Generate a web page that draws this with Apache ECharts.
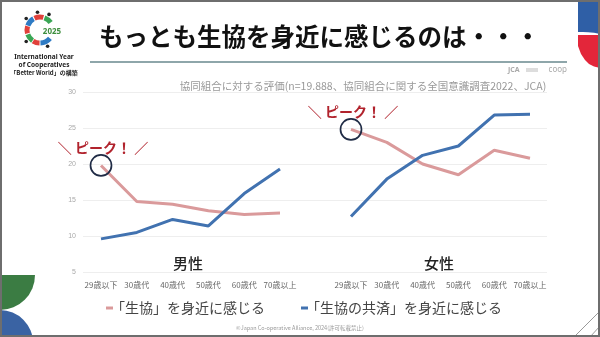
<!DOCTYPE html>
<html><head><meta charset="utf-8">
<script src="https://cdn.jsdelivr.net/npm/echarts@6/dist/echarts.min.js"></script>
<style>html,body{margin:0;padding:0;background:#fff}#c{width:600px;height:337px}</style>
</head><body><div id="c"></div>
<script>
const ageCategories = ['29歳以下','30歳代','40歳代','50歳代','60歳代','70歳以上'];
const yTicks = [5, 10, 15, 20, 25, 30];
const seriesNames = ['「生協」を身近に感じる', '「生協の共済」を身近に感じる'];
const maleSeikyo   = [19.8, 14.8, 14.4, 13.5, 13.0, 13.2];
const maleKyosai   = [9.6, 10.5, 12.3, 11.4, 15.9, 19.3];
const femaleSeikyo = [24.8, 23.0, 20.0, 18.5, 21.9, 20.8];
const femaleKyosai = [12.7, 17.9, 21.2, 22.5, 26.8, 26.9];
const panelTitles = ['男性', '女性'];
const peakLabel = '＼ ピーク！ ／';
const titleText = 'もっとも生協を身近に感じるのは・・・';
const subtitleText = '協同組合に対する評価(n=19.888、協同組合に関する全国意識調査2022、JCA)';
const footerText = '©Japan Co-operative Alliance, 2024(許可転載禁止)';

const PINK = '#da9a9b', BLUE = '#4172b0';
const JP = '"Noto Sans CJK JP", sans-serif';
const chart = echarts.init(document.getElementById('c'), null, {renderer: 'canvas'});

function peakMark(val) {
  return {
    symbol: 'circle', symbolSize: 21, silent: true,
    itemStyle: {color: 'rgba(0,0,0,0)', borderColor: '#1f2b45', borderWidth: 1.7},
    label: {show: true, formatter: peakLabel, position: 'inside', offset: [2, -18],
            color: '#b1232d', fontSize: 14, fontWeight: 'bold', fontFamily: JP},
    data: [{coord: [ageCategories[0], val]}]
  };
}
function catAxis(gi) {
  return {gridIndex: gi, type: 'category', data: ageCategories, boundaryGap: false,
    axisLine: {show: false}, axisTick: {show: false}, splitLine: {show: false},
    axisLabel: {fontSize: 8, color: '#666', margin: 9, interval: 0, hideOverlap: false, fontFamily: JP}};
}
function hiddenY(gi) {
  return {gridIndex: gi, type: 'value', min: yTicks[0], max: yTicks[yTicks.length-1], interval: 5, show: false, splitLine: {show: false}};
}
function line(name, xi, data, color, mark) {
  const s = {name, type: 'line', xAxisIndex: xi, yAxisIndex: xi, data, symbol: 'none', smooth: false,
    lineStyle: {width: 3, color}, itemStyle: {color}};
  if (mark) s.markPoint = mark;
  return s;
}
function legendAt(left, name) {
  return {left, top: 301, data: [name], icon: 'rect', itemWidth: 7, itemHeight: 3, padding: 0,
    textStyle: {fontSize: 14, color: '#444', fontFamily: JP, padding: [0, 0, 0, -7]}};
}

// logo ring
const logoSegs = [[290,325,'#3aa655'],[245,285,'#e0403a'],[200,240,'#2e7bc4'],[165,197,'#e0403a'],
                  [125,160,'#3aa655'],[92,122,'#e0403a'],[40,88,'#2e7bc4']];
const logo = logoSegs.map(s => ({type: 'arc', shape: {cx: 40, cy: 30, r: 13, startAngle: s[0]*Math.PI/180, endAngle: s[1]*Math.PI/180, clockwise: true},
  style: {stroke: s[2], lineWidth: 5, fill: null}}));
[300, 262, 220, 140, 65].forEach(a => logo.push({type: 'circle', shape: {cx: 40 + 18*Math.cos(a*Math.PI/180), cy: 30 + 18*Math.sin(a*Math.PI/180), r: 1.8}, style: {fill: '#222'}}));

chart.setOption({
  animation: false,
  backgroundColor: '#fff',
  grid: [
    {left: 83, right: 53, top: 92, bottom: 65},
    {left: 101, width: 179, top: 92, bottom: 65},
    {left: 351, width: 179, top: 92, bottom: 65}
  ],
  xAxis: [{gridIndex: 0, type: 'value', show: false, min: 0, max: 1, splitLine: {show: false}}, catAxis(1), catAxis(2)],
  yAxis: [
    {gridIndex: 0, type: 'value', min: yTicks[0], max: yTicks[yTicks.length-1], interval: 5,
     axisLine: {show: false}, axisTick: {show: false},
     axisLabel: {fontSize: 7, color: '#aaa', margin: 7},
     splitLine: {lineStyle: {color: '#eeeeee', width: 1}}},
    hiddenY(1), hiddenY(2)
  ],
  legend: [legendAt(106, seriesNames[0]), legendAt(301, seriesNames[1])],
  series: [
    line(seriesNames[0], 1, maleSeikyo, PINK, peakMark(maleSeikyo[0])),
    line(seriesNames[1], 1, maleKyosai, BLUE),
    line(seriesNames[0], 2, femaleSeikyo, PINK, peakMark(femaleSeikyo[0])),
    line(seriesNames[1], 2, femaleKyosai, BLUE)
  ],
  graphic: [
    // corner decorations
    {type: 'sector', shape: {cx: 0, cy: 275, r: 35, startAngle: 0, endAngle: Math.PI/2}, style: {fill: '#3b7c43'}},
    {type: 'sector', shape: {cx: 0, cy: 343, r: 33, startAngle: -Math.PI/2, endAngle: 0}, style: {fill: '#3a63a3'}},
    {type: 'polygon', shape: {points: [[578,0],[600,0],[600,34],[594,32.8],[588,32.2],[583,32],[578,32]]}, style: {fill: '#2f5fa6'}},
    {type: 'polygon', shape: {points: [[578,35],[600,35],[600,68],[594,66.5],[589,64],[585,60],[581,54],[578,46]]}, style: {fill: '#e3263a'}},
    {type: 'line', shape: {x1: 575, y1: 336, x2: 599, y2: 312}, style: {stroke: '#9a9a9a', lineWidth: 1}},
    {type: 'line', shape: {x1: 590, y1: 337, x2: 600, y2: 326}, style: {stroke: '#9a9a9a', lineWidth: 1}},
    ...logo,
    {type: 'text', x: 52, y: 32, style: {text: '2025', font: 'bold 8px "Noto Sans", sans-serif', fill: '#3f8f3f', align: 'center', verticalAlign: 'middle'}},
    {type: 'text', x: 44, y: 57, style: {text: 'International Year', font: 'bold 6.5px "Noto Sans", sans-serif', fill: '#222', align: 'center', verticalAlign: 'middle'}},
    {type: 'text', x: 44, y: 65, style: {text: 'of Cooperatives', font: 'bold 6.5px "Noto Sans", sans-serif', fill: '#222', align: 'center', verticalAlign: 'middle'}},
    {type: 'text', x: 44, y: 73, style: {text: '「Better World」の構築', font: 'bold 6px ' + JP, fill: '#222', align: 'center', verticalAlign: 'middle'}},
    // title
    {type: 'text', x: 99, y: 37, style: {text: titleText, font: 'bold 24.5px ' + JP, fill: '#111', align: 'left', verticalAlign: 'middle'}},
    {type: 'line', shape: {x1: 90, y1: 62, x2: 567, y2: 62}, style: {stroke: '#8ea6aa', lineWidth: 2}},
    {type: 'text', x: 508, y: 70, style: {text: 'JCA', font: 'bold 7px "Noto Sans", sans-serif', fill: '#aaa', align: 'left', verticalAlign: 'middle'}},
    {type: 'rect', shape: {x: 526, y: 68, width: 12, height: 4}, style: {fill: '#ddd'}},
    {type: 'text', x: 567, y: 70, style: {text: 'coop', font: '8px "Noto Sans", sans-serif', fill: '#aaa', align: 'right', verticalAlign: 'middle'}},
    {type: 'text', x: 363, y: 86, style: {text: subtitleText, font: '10.5px ' + JP, fill: '#999', align: 'center', verticalAlign: 'middle'}},
    // panel titles
    {type: 'text', x: 188, y: 263, style: {text: panelTitles[0], font: '500 15px ' + JP, fill: '#222', align: 'center', verticalAlign: 'middle'}},
    {type: 'text', x: 439, y: 263, style: {text: panelTitles[1], font: '500 15px ' + JP, fill: '#222', align: 'center', verticalAlign: 'middle'}},
    // footer
    {type: 'text', x: 300, y: 328, style: {text: footerText, font: '5.5px ' + JP, fill: '#999', align: 'center', verticalAlign: 'middle'}},
    // frame
    {type: 'rect', z: 100, shape: {x: 1, y: 1, width: 598, height: 335}, style: {fill: null, stroke: '#6e6e6e', lineWidth: 2}}
  ]
});
</script>
</body></html>
